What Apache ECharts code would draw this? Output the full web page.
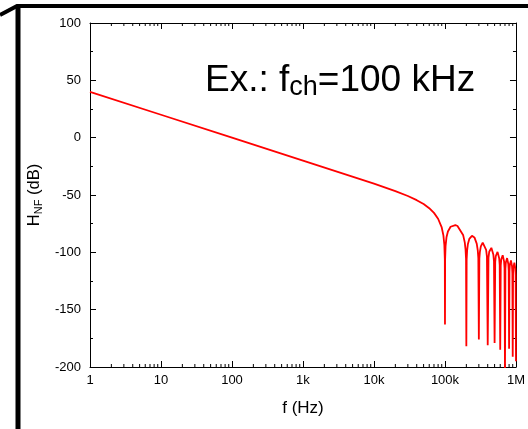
<!DOCTYPE html>
<html>
<head>
<meta charset="utf-8">
<script src="https://cdn.jsdelivr.net/npm/echarts@6/dist/echarts.min.js"></script>
<style>
  html, body { margin: 0; padding: 0; background: #fff; }
  #chart { width: 528px; height: 429px; }
</style>
</head>
<body>
<div id="chart"></div>
<script>
// frequency (Hz) and response (dB)
const freq = [
  1, 10, 100, 1000, 10000, 20000, 30000, 40000, 50000, 60000, 70000, 80000,
  90000, 95000, 98000, 99500, 100000, 100500, 102000, 105000, 110000, 120000,
  140000, 150000, 160000, 180000, 190000, 195000, 198000, 200000, 202000,
  205000, 210000, 220000, 240000, 250000, 260000, 280000, 290000, 295000,
  300000, 305000, 310000, 320000, 340000, 350000, 360000, 380000, 390000,
  400000, 410000, 420000, 450000, 480000, 490000, 500000, 510000, 520000,
  550000, 580000, 590000, 600000, 610000, 620000, 650000, 680000, 690000,
  700000, 710000, 720000, 750000, 780000, 790000, 800000, 810000, 820000,
  850000, 880000, 890000, 900000, 910000, 920000, 950000, 980000, 990000,
  1000000
];
const hnf = [
  40, 20, 0, -20, -40.1, -46.6, -50.9, -54.5, -57.9, -61.5, -65.6, -70.7,
  -78.3, -85.2, -93.6, -106, -163, -106.1, -94.3, -86.9, -81.8, -77.7,
  -76.2, -77.0, -78.5, -84.8, -91.3, -97.7, -105.8, -182, -106.2,
  -98.5, -93.0, -88.3, -85.6, -85.9, -87.0, -92.4, -98.6, -104.9,
  -176, -105.4, -99.8, -94.8, -91.6, -91.7, -92.6, -97.8, -103.8,
  -181, -104.7, -99.5, -96.1, -101.8, -107.7, -179, -108.4, -103.2,
  -99.6, -105.1, -111.0, -185, -111.6, -106.3, -102.5, -107.9, -113.7,
  -205, -114.2, -108.9, -105.0, -110.2, -116.1, -184, -116.5, -111.1,
  -107.1, -112.3, -118.1, -191, -118.5, -113.1, -109.1, -114.2, -120.0,
  -195
];
const xTickLabels = ['1', '10', '100', '1k', '10k', '100k', '1M'];
const minorMult = [2, 3, 4, 5, 6, 7, 8, 9];
const decades = [1, 10, 100, 1000, 10000, 100000];

const font = 'Liberation Sans, Arial, sans-serif';
const minorTicks = [];
decades.forEach(d => minorMult.forEach(m => minorTicks.push([d * m, -200])));

const chart = echarts.init(document.getElementById('chart'));

const xAxisBase = {
  type: 'log',
  logBase: 10,
  min: 1,
  max: 1000000,
  axisLine: { onZero: false, lineStyle: { color: '#000', width: 1 } },
  axisTick: { inside: true, length: 6, lineStyle: { color: '#000' } },
  splitLine: { show: false },
  minorTick: { show: false }
};
const yAxisBase = {
  type: 'value',
  min: -200,
  max: 100,
  interval: 50,
  axisLine: { show: true, onZero: false, lineStyle: { color: '#000', width: 1 } },
  axisTick: { show: true, inside: true, length: 6, lineStyle: { color: '#000' } },
  minorTick: { show: true, splitNumber: 2, length: 3, lineStyle: { color: '#000' } },
  splitLine: { show: false }
};

chart.setOption({
  animation: false,
  textStyle: { fontFamily: font },
  grid: { left: 90, right: 11, top: 23, bottom: 62 },
  xAxis: [
    Object.assign({}, xAxisBase, {
      position: 'bottom',
      name: 'f (Hz)',
      nameLocation: 'middle',
      nameGap: 33,
      nameTextStyle: { color: '#000', fontSize: 17, fontFamily: font },
      axisLabel: {
        color: '#000', fontSize: 13, fontFamily: font, margin: 7,
        formatter: v => xTickLabels[Math.round(Math.log10(v))]
      }
    }),
    Object.assign({}, xAxisBase, {
      position: 'top',
      axisLabel: { show: false }
    })
  ],
  yAxis: [
    Object.assign({}, yAxisBase, {
      position: 'left',
      name: '{m|H}{s|NF}{m| (dB)}',
      nameLocation: 'middle',
      nameGap: 45,
      nameTextStyle: {
        color: '#000',
        rich: {
          m: { fontSize: 16.5, fontFamily: font, color: '#000', lineHeight: 20 },
          s: { fontSize: 11, fontFamily: font, color: '#000', lineHeight: 12, verticalAlign: 'bottom' }
        }
      },
      axisLabel: { color: '#000', fontSize: 13, fontFamily: font, margin: 9 }
    }),
    Object.assign({}, yAxisBase, {
      position: 'right',
      axisLabel: { show: false }
    })
  ],
  series: [
    {
      type: 'custom',
      silent: true,
      clip: false,
      data: minorTicks,
      renderItem: (params, api) => {
        const b = api.coord([api.value(0), -200]);
        const t = api.coord([api.value(0), 100]);
        return {
          type: 'group',
          children: [
            { type: 'line', shape: { x1: b[0], y1: b[1], x2: b[0], y2: b[1] - 3 }, style: { stroke: '#000', lineWidth: 1 } },
            { type: 'line', shape: { x1: t[0], y1: t[1], x2: t[0], y2: t[1] + 3 }, style: { stroke: '#000', lineWidth: 1 } }
          ]
        };
      }
    },
    {
      type: 'line',
      data: freq.map((f, i) => [f, hnf[i]]),
      showSymbol: false,
      clip: true,
      lineStyle: { color: '#ff0000', width: 1.8 },
      z: 3
    }
  ],
  graphic: [
    {
      type: 'text',
      left: 205,
      top: 62,
      style: {
        text: '{a|Ex.: f}{b|ch}{a|=100 kHz}',
        rich: {
          a: { fontSize: 37, fontFamily: font, fill: '#000', lineHeight: 42 },
          b: { fontSize: 27, fontFamily: font, fill: '#000', lineHeight: 26, verticalAlign: 'bottom' }
        }
      }
    },
    {
      type: 'polyline',
      shape: { points: [[0, 15], [17, 6], [528, 6]] },
      style: { stroke: '#000', lineWidth: 4, fill: null }
    },
    {
      type: 'polyline',
      shape: { points: [[18, 6], [18, 429]] },
      style: { stroke: '#000', lineWidth: 5, fill: null }
    }
  ]
});
</script>
</body>
</html>
